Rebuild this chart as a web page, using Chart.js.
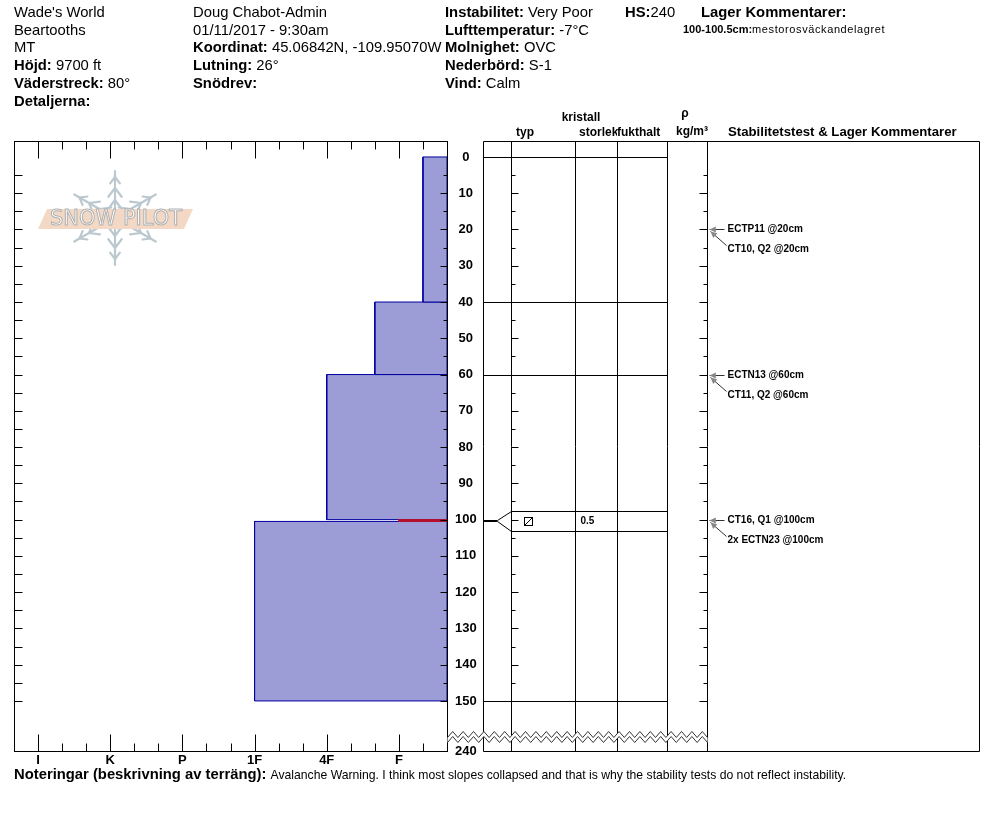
<!DOCTYPE html>
<html>
<head>
<meta charset="utf-8">
<script src="https://cdn.jsdelivr.net/npm/chart.js@4.4.1/dist/chart.umd.min.js"></script>
<style>
body { margin: 0; background: #fff; font-family: "Liberation Sans", Arial, sans-serif; color: #000; }
#wrap { position: relative; width: 994px; height: 840px; overflow: hidden; }
#c { position: absolute; left: 0; top: 0; }
.t { position: absolute; font-size: 14.8px; line-height: 18px; white-space: nowrap; }
.h { position: absolute; font-size: 12px; font-weight: bold; line-height: 14px; white-space: nowrap; }
</style>
</head>
<body>
<div id="wrap">
  <canvas id="c" width="994" height="840"></canvas>
</div>
<script>
// header info
const siteInfo = [['', "Wade's World"], ['', 'Beartooths'], ['', 'MT'], ['Höjd:', '9700 ft'], ['Väderstreck:', '80°'], ['Detaljerna:', '']]
const observerInfo = [['', 'Doug Chabot-Admin'], ['', '01/11/2017 - 9:30am'], ['Koordinat:', '45.06842N, -109.95070W'], ['Lutning:', '26°'], ['Snödrev:', '']]
const weatherInfo = [['Instabilitet:', 'Very Poor'], ['Lufttemperatur:', '-7°C'], ['Molnighet:', 'OVC'], ['Nederbörd:', 'S-1'], ['Vind:', ' Calm']]
const snowHeight = 240
const layerComments = [['100-100.5cm:', 'mestorosväckandelagret']]
const notes = 'Avalanche Warning. I think most slopes collapsed and that is why the stability tests do not reflect instability.'

// profile
const hardnessScale = ['F-', 'F', 'F+', '4F-', '4F', '4F+', '1F-', '1F', '1F+', 'P-', 'P', 'P+', 'K-', 'K', 'K+', 'I-', 'I', 'I+']
const hardnessTicks = ['I', 'K', 'P', '1F', '4F', 'F']
const depthTicks = [0, 10, 20, 30, 40, 50, 60, 70, 80, 90, 100, 110, 120, 130, 140, 150]
const layerTop = [0, 40, 60, 100, 100.5]
const layerBottom = [40, 60, 100, 100.5, 150]
const layerHardness = ['F-', 'F+', '4F', 'F', '1F']
const layerGrain = ['', '', '', 'FCxr', '']
const layerSize = ['', '', '', '0.5', '']
const criticalLayer = 3

// stability tests
const testLabels = ['ECTP11 @20cm', 'CT10, Q2 @20cm', 'ECTN13 @60cm', 'CT11, Q2 @60cm', 'CT16, Q1 @100cm', '2x ECTN23 @100cm']
const testDepths = [20, 20, 60, 60, 100, 100]

// layout
const depthMin = -4.4, depthMax = 163.8
const headerRowY = [12, 30, 47, 65, 83, 101]
const cols = [483, 511, 575, 617, 667, 707, 979]
const FONT = '"Liberation Sans", Arial, sans-serif'

const wrap = document.getElementById('wrap')
const hv = s => hardnessScale.indexOf(s) + 1

function addText(cls, left, top, parts, extra) {
    const d = document.createElement('div')
    d.className = cls
    d.style.left = left + 'px'
    d.style.top = top + 'px'
    parts.forEach(p => {
        const s = document.createElement(p[1] ? 'b' : 'span')
        s.textContent = p[0]
        d.appendChild(s)
    })
    if (extra) Object.assign(d.style, extra)
    wrap.appendChild(d)
    return d
}

function headerColumn(rows, left) {
    rows.forEach((r, i) => {
        const parts = []
        if (r[0]) parts.push([r[0] + ' ', true])
        parts.push([r[1], false])
        addText('t', left, headerRowY[i] - 9, parts)
    })
}
headerColumn(siteInfo, 14)
headerColumn(observerInfo, 193)
headerColumn(weatherInfo, 445)
addText('t', 625, 3, [['HS:', true], [String(snowHeight), false]])
addText('t', 701, 3, [['Lager Kommentarer:', true]])
layerComments.forEach((c, i) => {
    const d = addText('t', 683, 22 + i * 14, [[c[0], true], [c[1], false]], {fontSize: '11px', lineHeight: '14px'})
    d.lastChild.style.letterSpacing = '0.6px'
})

// column headers
addText('h', 581, 110, [['kristall', true]], {transform: 'translateX(-50%)'})
addText('h', 516, 125, [['typ', true]])
addText('h', 579, 125, [['storlek', true]])
addText('h', 617, 125, [['fukthalt', true]], {background: '#fff'})
addText('h', 685, 106, [['ρ', true]], {transform: 'translateX(-50%)'})
addText('h', 692, 124, [['kg/m³', true]], {transform: 'translateX(-50%)'})
addText('h', 728, 125, [['Stabilitetstest & Lager Kommentarer', true]], {fontSize: '13.2px'})
const n = addText('t', 14, 765, [['Noteringar (beskrivning av terräng): ', true], [notes, false]])
n.lastChild.style.fontSize = '12.2px'

function line(ctx, x1, y1, x2, y2) {
    ctx.beginPath()
    ctx.moveTo(x1, y1)
    ctx.lineTo(x2, y2)
    ctx.stroke()
}

function arrow(ctx, x1, y1, x2, y2) {
    const ang = Math.atan2(y2 - y1, x2 - x1)
    ctx.strokeStyle = '#333'
    line(ctx, x1, y1, x2, y2)
    ctx.fillStyle = '#888'
    ctx.beginPath()
    ctx.moveTo(x2, y2)
    ctx.lineTo(x2 - 7 * Math.cos(ang - 0.45), y2 - 7 * Math.sin(ang - 0.45))
    ctx.lineTo(x2 - 7 * Math.cos(ang + 0.45), y2 - 7 * Math.sin(ang + 0.45))
    ctx.closePath()
    ctx.fill()
}

function drawLogo(ctx) {
    const cx = 115, cy = 218
    ctx.save()
    ctx.strokeStyle = '#bcc8cf'
    ctx.lineWidth = 2.2
    ctx.lineCap = 'round'
    for (let k = 0; k < 6; k++) {
        const a = -Math.PI / 2 + k * Math.PI / 3
        const dx = Math.cos(a), dy = Math.sin(a)
        line(ctx, cx + dx * 6, cy + dy * 6, cx + dx * 47, cy + dy * 47)
        ;[[14, 12], [26, 11], [37, 8]].forEach(b => {
            const px = cx + dx * b[0], py = cy + dy * b[0]
            ;[-0.65, 0.65].forEach(r => {
                const ba = a + Math.PI + r
                line(ctx, px + dx * 4, py + dy * 4, px + dx * 4 + Math.cos(ba) * b[1], py + dy * 4 + Math.sin(ba) * b[1])
            })
        })
    }
    ctx.fillStyle = '#f3d9c5'
    ctx.beginPath()
    ctx.moveTo(38, 229)
    ctx.lineTo(47, 209)
    ctx.lineTo(193, 209)
    ctx.lineTo(184, 229)
    ctx.closePath()
    ctx.fill()
    ctx.font = '21px "DejaVu Sans"'
    ctx.textAlign = 'center'
    ctx.textBaseline = 'middle'
    ctx.fillStyle = '#fff'
    ctx.strokeStyle = '#b0b0b0'
    ctx.lineWidth = 1
    ctx.fillText('SNOW PILOT', 116, 220)
    ctx.strokeText('SNOW PILOT', 116, 220)
    ctx.restore()
}

const sheetPlugin = {
    id: 'sheet',
    beforeDatasetsDraw(chart) {
        drawLogo(chart.ctx)
    },
    afterDraw(chart) {
        const ctx = chart.ctx, x = chart.scales.x, y = chart.scales.y, a = chart.chartArea
        ctx.save()
        ctx.strokeStyle = '#000'
        ctx.lineWidth = 1
        ctx.translate(0.5, 0.5)
        const L = Math.round(a.left), R = Math.round(a.right), T = Math.round(a.top), B = Math.round(a.bottom)
        ctx.strokeRect(L, T, R - L, B - T)

        // hardness ticks, top and bottom
        for (let v = 1; v < hardnessScale.length; v++) {
            const px = Math.round(x.getPixelForValue(v))
            const len = hardnessTicks.includes(hardnessScale[v - 1]) ? 17 : 8
            line(ctx, px, T, px, T + len)
            line(ctx, px, B, px, B - len)
        }

        // table frame
        cols.forEach(c => line(ctx, c, T, c, B))
        line(ctx, cols[0], T, cols[6], T)
        line(ctx, cols[0], B, cols[6], B)

        // depth ticks
        for (let d = 5; d <= 150; d += 5) {
            const py = Math.round(y.getPixelForValue(d))
            const long = d % 10 === 0
            line(ctx, L, py, L + 8, py)
            line(ctx, R, py, R - (long ? 7 : 4), py)
            line(ctx, cols[1], py, cols[1] + (long ? 7 : 4), py)
            line(ctx, cols[5], py, cols[5] - (long ? 8 : 4), py)
        }

        // layer rows in the table, thin layers expanded
        const actual = [layerTop[0]].concat(layerBottom).map(d => y.getPixelForValue(d))
        const shown = actual.slice()
        layerTop.forEach((t, i) => {
            const p1 = actual[i], p2 = actual[i + 1]
            if (p2 - p1 < 20) {
                const m = (p1 + p2) / 2
                shown[i] = m - 10
                shown[i + 1] = m + 10
            }
        })
        actual.forEach((p, k) => {
            const py = Math.round(p), dp = Math.round(shown[k])
            if (py === dp) {
                line(ctx, cols[0], py, cols[4], py)
            } else {
                line(ctx, cols[0], py, cols[0] + 14, py)
                line(ctx, cols[0] + 14, py, cols[1], dp)
                line(ctx, cols[1], dp, cols[4], dp)
            }
        })
        layerTop.forEach((t, i) => {
            const my = (shown[i] + shown[i + 1]) / 2
            if (layerGrain[i]) {
                ctx.strokeRect(524, Math.round(my) - 4, 8, 8)
                line(ctx, 524, Math.round(my) + 4, 532, Math.round(my) - 4)
            }
            if (layerSize[i]) {
                ctx.fillStyle = '#000'
                ctx.font = 'bold 10px ' + FONT
                ctx.textAlign = 'left'
                ctx.textBaseline = 'middle'
                ctx.fillText(layerSize[i], 580, my)
            }
        })

        // stability tests
        ctx.font = 'bold 10px ' + FONT
        ctx.textAlign = 'left'
        ctx.textBaseline = 'middle'
        testLabels.forEach((lab, i) => {
            const k = testDepths.slice(0, i).filter(d => d === testDepths[i]).length
            const py = Math.round(y.getPixelForValue(testDepths[i]))
            const ty = py + 20 * k
            if (k === 0) arrow(ctx, 724, py, cols[5] + 2, py)
            else arrow(ctx, 726, ty - 4, cols[5] + 3, py + 2)
            ctx.fillStyle = '#000'
            ctx.fillText(lab, 727, ty)
        })

        // axis break
        const up = [], lo = []
        for (let k = 0, xx = R; xx <= cols[5] + 0.1; k++, xx = R + k * 5.2) {
            up.push([xx, k % 2 ? 731 : 737])
            lo.push([xx, k % 2 ? 736 : 742])
        }
        ctx.fillStyle = '#fff'
        ctx.beginPath()
        up.forEach((p, i) => i ? ctx.lineTo(p[0], p[1]) : ctx.moveTo(p[0], p[1]))
        lo.slice().reverse().forEach(p => ctx.lineTo(p[0], p[1]))
        ctx.closePath()
        ctx.fill()
        ;[up, lo].forEach(z => {
            ctx.beginPath()
            z.forEach((p, i) => i ? ctx.lineTo(p[0], p[1]) : ctx.moveTo(p[0], p[1]))
            ctx.stroke()
        })
        ctx.restore()
    }
}

const datasets = layerTop.map((top, i) => {
    const h = hv(layerHardness[i])
    const bot = layerBottom[i]
    const crit = i === criticalLayer
    return {
        data: [{x: 0, y: top}, {x: h, y: top}, {x: h, y: bot}, {x: 0, y: bot}, {x: 0, y: top}],
        showLine: true,
        fill: 'shape',
        backgroundColor: crit ? '#b8102c' : '#9c9cd6',
        borderColor: crit ? '#b8102c' : '#0000a0',
        borderWidth: 1,
        pointRadius: 0,
        tension: 0,
        order: crit ? -1 : i
    }
})

new Chart(document.getElementById('c'), {
    type: 'scatter',
    data: {datasets: datasets},
    options: {
        responsive: false,
        animation: false,
        layout: {padding: {left: 14, top: 141, right: 511, bottom: 67}},
        plugins: {legend: {display: false}, tooltip: {enabled: false}},
        scales: {
            x: {
                type: 'linear', position: 'bottom', reverse: true, min: 0, max: 18,
                grid: {display: false}, border: {display: false},
                afterBuildTicks: s => { s.ticks = hardnessTicks.map(l => ({value: hv(l)})) },
                afterFit: s => { s.height = 22 },
                ticks: {
                    padding: -6, autoSkip: false, maxRotation: 0, color: '#000',
                    font: {family: FONT, size: 13, weight: 'bold'},
                    callback: v => hardnessScale[v - 1]
                }
            },
            y: {
                type: 'linear', position: 'right', reverse: true, min: depthMin, max: depthMax,
                grid: {display: false}, border: {display: false},
                afterBuildTicks: s => { s.ticks = depthTicks.map(v => ({value: v})).concat([{value: depthMax}]) },
                afterFit: s => { s.width = 36 },
                ticks: {
                    crossAlign: 'center', padding: 0, autoSkip: false, color: '#000',
                    font: {family: FONT, size: 13, weight: 'bold'},
                    callback: v => v === depthMax ? snowHeight : v
                }
            }
        }
    },
    plugins: [sheetPlugin]
})
</script>
</body>
</html>
